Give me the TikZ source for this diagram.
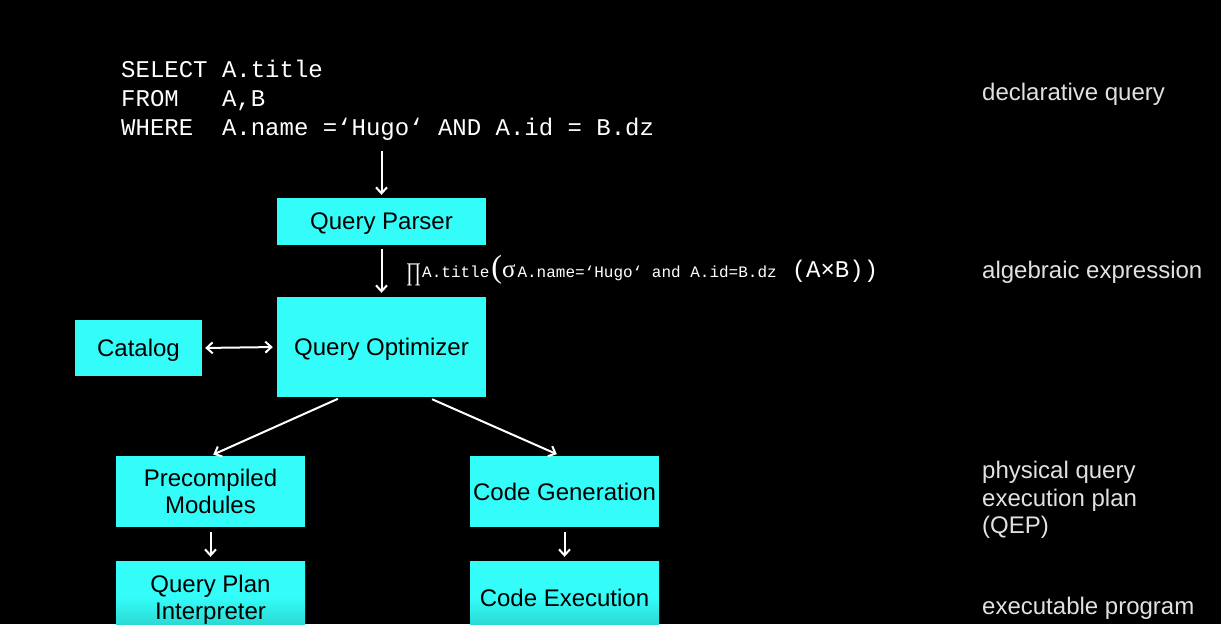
\documentclass[tikz,border=0pt]{standalone}
\usepackage{fontspec}
\setmainfont{Liberation Sans}
\setmonofont{Liberation Mono}
\newfontfamily\symfont{Liberation Serif}
\usetikzlibrary{arrows.meta,calc}
\definecolor{boxcyan}{RGB}{52,252,248}
\definecolor{boxteal}{RGB}{40,205,200}
\definecolor{lblgray}{RGB}{225,225,225}
\tikzset{
  procbox/.style={draw=none, fill=boxcyan, text=black, align=center,
    font=\fontsize{24}{27}\selectfont, inner sep=0pt, text depth=0pt},
  lowbox/.style={procbox, top color=boxcyan, bottom color=boxteal, middle color=boxcyan},
  flow/.style={white, line width=2pt, -{Straight Barb[length=6pt,width=11pt,line width=2pt]}},
  bothflow/.style={white, line width=2pt, {Straight Barb[length=6pt,width=11pt,line width=2pt]}-{Straight Barb[length=6pt,width=11pt,line width=2pt]}},
  sidelbl/.style={text=lblgray, anchor=north west, align=left, inner sep=0pt,
    font=\fontsize{24}{27.5}\selectfont},
}
\begin{document}
\begin{tikzpicture}[x=1pt,y=-1pt]
\useasboundingbox (0,0) rectangle (1221,624);
\fill[black] (0,0) rectangle (1221,624);
\begin{scope}
\clip (0,0) rectangle (1221,624);
% SQL
\node[anchor=north west, inner sep=0pt, align=left, text=white,
  font=\ttfamily\fontsize{24}{29}\selectfont] (sql) at (121,60)
  {SELECT A.title\\FROM\ \ \ A,B\\WHERE\ \ A.name =‘Hugo‘ AND A.id = B.dz};
% boxes
\node[procbox, minimum width=209pt, minimum height=47pt] (parser) at (381.5,221.5) {Query Parser};
\node[procbox, minimum width=209pt, minimum height=100pt] (opt) at (381.5,347) {Query Optimizer};
\node[procbox, minimum width=127pt, minimum height=56pt] (cat) at (138.5,348) {Catalog};
\node[procbox, minimum width=189pt, minimum height=71pt] (pre) at (210.5,491.5) {Precompiled\\Modules};
\node[procbox, minimum width=189pt, minimum height=71pt] (cg) at (564.5,491.5) {Code Generation};
\node[lowbox, minimum width=189pt, minimum height=73pt] (qpi) at (210.5,597.5) {Query Plan\\Interpreter};
\node[lowbox, minimum width=189pt, minimum height=73pt] (ce) at (564.5,597.5) {Code Execution};
% algebraic expression
\node[anchor=base west, inner sep=0pt, text=white] (alg) at (406,277)
  {\raisebox{-3pt}{\resizebox*{15pt}{22pt}{\symfont ∏}}\hspace{1pt}{\ttfamily\fontsize{16}{16}\selectfont A.title}\hspace{2pt}{\symfont\fontsize{32}{32}\selectfont(}{\symfont\fontsize{25}{25}\selectfont σ}\hspace{2pt}{\ttfamily\fontsize{16}{16}\selectfont A.name=‘Hugo‘ and A.id=B.dz}\hspace{15pt}{\ttfamily\fontsize{24}{24}\selectfont (A×B))}};
% connectors
\draw[flow, shorten <=10pt, shorten >=3pt] (sql.south -| parser.north) -- (parser.north);
\draw[flow, shorten <=4pt, shorten >=4pt] (parser.south) -- (opt.north);
\draw[bothflow, shorten <=3pt, shorten >=4pt] (cat.east) -- (opt.west);
\draw[flow, shorten <=4pt, shorten >=3pt] ([xshift=-40pt]opt.south) -- (pre.north);
\draw[flow, shorten <=5pt, shorten >=4pt] ([xshift=46pt]opt.south) -- ([xshift=-4pt]cg.north);
\draw[flow, shorten <=5pt, shorten >=4pt] (pre.south) -- (qpi.north);
\draw[flow, shorten <=5pt, shorten >=4pt] (cg.south) -- (ce.north);
% side labels
\node[sidelbl] (l1) at (982,83) {declarative query};
\node[sidelbl] (l2) at (982,261) {algebraic expression};
\node[sidelbl] (l3) at (982,461) {physical query\\execution plan\\(QEP)};
\node[sidelbl] (l4) at (982,597) {executable program};
\end{scope}
\end{tikzpicture}
\end{document}
